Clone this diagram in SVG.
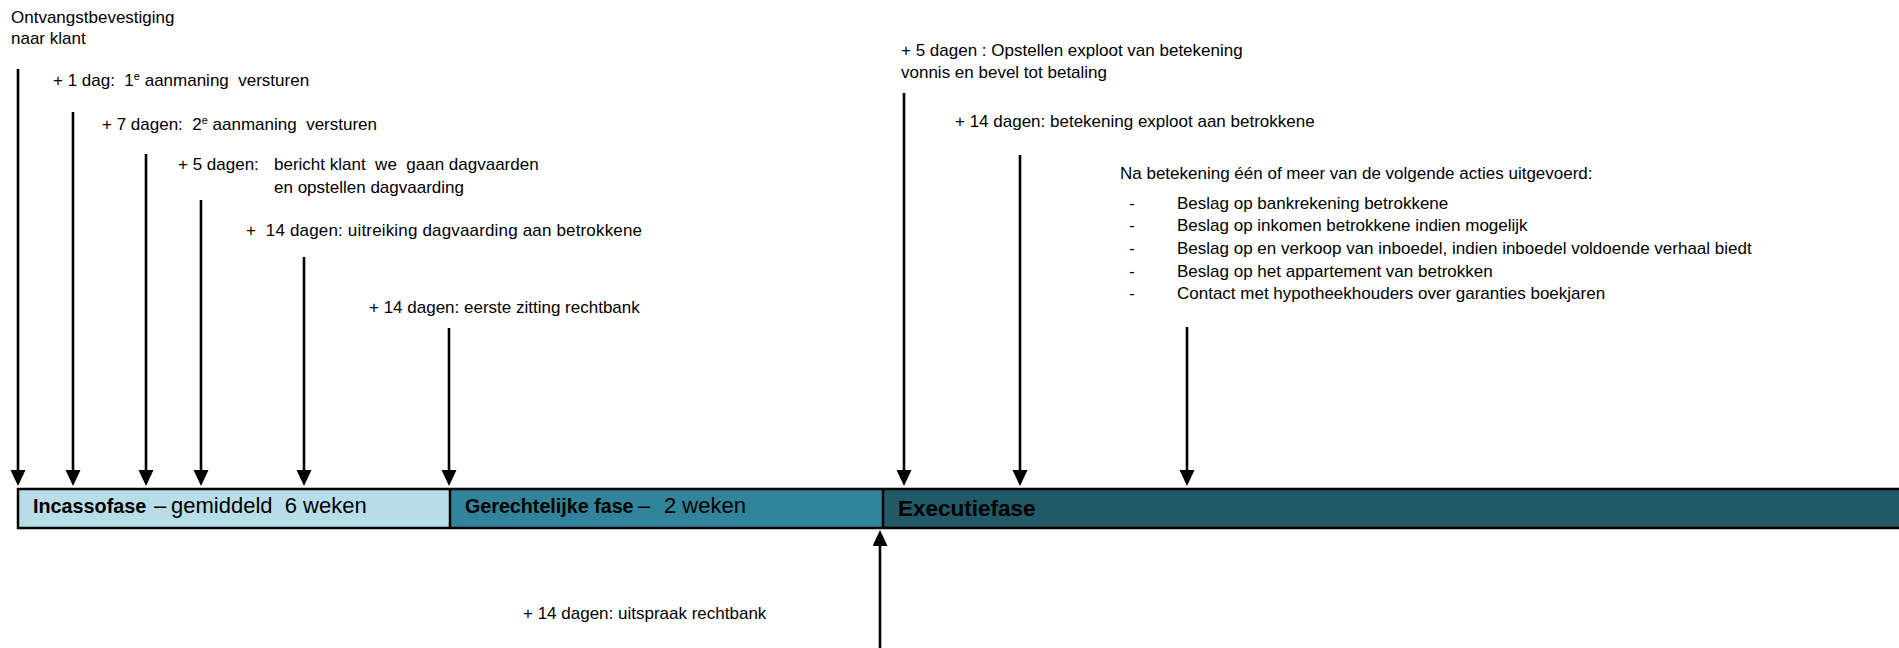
<svg xmlns="http://www.w3.org/2000/svg" width="1899" height="648" viewBox="0 0 1899 648">
<style>
.t{font-family:"Liberation Sans",Arial,sans-serif;font-size:17px;fill:#000;white-space:pre}
.b{font-family:"Liberation Sans",Arial,sans-serif;fill:#000;white-space:pre}
.bold{font-weight:bold}
.ln{stroke:#000;stroke-width:2.6;fill:none}
.sup{font-size:11px}
</style>
<defs>
<marker id="ah" markerUnits="userSpaceOnUse" markerWidth="16" markerHeight="16" refX="8" refY="7.5" orient="auto">
<path d="M0,0 L16,7.5 L0,15 Z" fill="#000"/>
</marker>
</defs>
<rect width="1899" height="648" fill="#fff"/>

<g id="bar">
<rect x="18" y="489" width="432" height="39" fill="#B7DDE8"/>
<rect x="450" y="489" width="433" height="39" fill="#31849B"/>
<rect x="883" y="489" width="1020" height="39" fill="#215967"/>
<rect x="18" y="489" width="1890" height="39" fill="none" stroke="#000" stroke-width="2.5"/>
<line x1="450" y1="489" x2="450" y2="528" stroke="#000" stroke-width="2.5"/>
<line x1="883" y1="489" x2="883" y2="528" stroke="#000" stroke-width="2.5"/>
</g>
<g id="phase-incasso">
<text class="b" y="513" font-size="22"><tspan x="33" class="bold" font-size="19.8">Incassofase</tspan><tspan x="154">–</tspan><tspan x="171">gemiddeld  6 weken</tspan></text>
</g>
<g id="phase-gerechtelijk">
<text class="b" y="513" font-size="22"><tspan x="465" class="bold" font-size="19.7">Gerechtelijke fase</tspan><tspan x="638">–</tspan><tspan x="664">2 weken</tspan></text>
</g>
<g id="phase-executie">
<text class="b bold" x="898" y="516" font-size="22.5">Executiefase</text>
</g>

<g id="connectors">
<line class="ln" x1="18" y1="69" x2="18" y2="478" marker-end="url(#ah)"/>
<line class="ln" x1="73" y1="112" x2="73" y2="478" marker-end="url(#ah)"/>
<line class="ln" x1="146" y1="154" x2="146" y2="478" marker-end="url(#ah)"/>
<line class="ln" x1="201" y1="200" x2="201" y2="478" marker-end="url(#ah)"/>
<line class="ln" x1="304" y1="257" x2="304" y2="478" marker-end="url(#ah)"/>
<line class="ln" x1="449" y1="328" x2="449" y2="478" marker-end="url(#ah)"/>
<line class="ln" x1="904" y1="93" x2="904" y2="478" marker-end="url(#ah)"/>
<line class="ln" x1="1020" y1="155" x2="1020" y2="478" marker-end="url(#ah)"/>
<line class="ln" x1="1187" y1="327" x2="1187" y2="478" marker-end="url(#ah)"/>
<line class="ln" x1="880" y1="648" x2="880" y2="538" marker-end="url(#ah)"/>
</g>

<g id="n-ontvangst">
<text class="t" x="11" y="23">Ontvangstbevestiging</text>
<text class="t" x="11" y="44">naar klant</text>
</g>
<g id="n-aanmaning1">
<text class="t" x="53" y="86">+ 1 dag:  1<tspan class="sup" baseline-shift="super">e</tspan> aanmaning  versturen</text>
</g>
<g id="n-aanmaning2">
<text class="t" x="102" y="130">+ 7 dagen:  2<tspan class="sup" baseline-shift="super">e</tspan> aanmaning  versturen</text>
</g>
<g id="n-bericht">
<text class="t" y="170"><tspan x="178">+ 5 dagen:</tspan><tspan x="274">bericht klant  we  gaan dagvaarden</tspan></text>
<text class="t" x="274" y="193">en opstellen dagvaarding</text>
</g>
<g id="n-uitreiking">
<text class="t" x="246" y="236" textLength="396" lengthAdjust="spacing">+  14 dagen: uitreiking dagvaarding aan betrokkene</text>
</g>
<g id="n-zitting">
<text class="t" x="369" y="313">+ 14 dagen: eerste zitting rechtbank</text>
</g>
<g id="n-uitspraak">
<text class="t" x="523" y="619">+ 14 dagen: uitspraak rechtbank</text>
</g>
<g id="n-exploot">
<text class="t" x="901" y="56">+ 5 dagen : Opstellen exploot van betekening</text>
<text class="t" x="901" y="78">vonnis en bevel tot betaling</text>
</g>
<g id="n-betekening">
<text class="t" x="955" y="127">+ 14 dagen: betekening exploot aan betrokkene</text>
</g>
<g id="n-acties">
<text class="t" x="1120" y="179">Na betekening één of meer van de volgende acties uitgevoerd:</text>
<text class="t" x="1129" y="209">-</text><text class="t" x="1177" y="209">Beslag op bankrekening betrokkene</text>
<text class="t" x="1129" y="231">-</text><text class="t" x="1177" y="231">Beslag op inkomen betrokkene indien mogelijk</text>
<text class="t" x="1129" y="254">-</text><text class="t" x="1177" y="254">Beslag op en verkoop van inboedel, indien inboedel voldoende verhaal biedt</text>
<text class="t" x="1129" y="277">-</text><text class="t" x="1177" y="277">Beslag op het appartement van betrokken</text>
<text class="t" x="1129" y="299">-</text><text class="t" x="1177" y="299">Contact met hypotheekhouders over garanties boekjaren</text>
</g>
</svg>
